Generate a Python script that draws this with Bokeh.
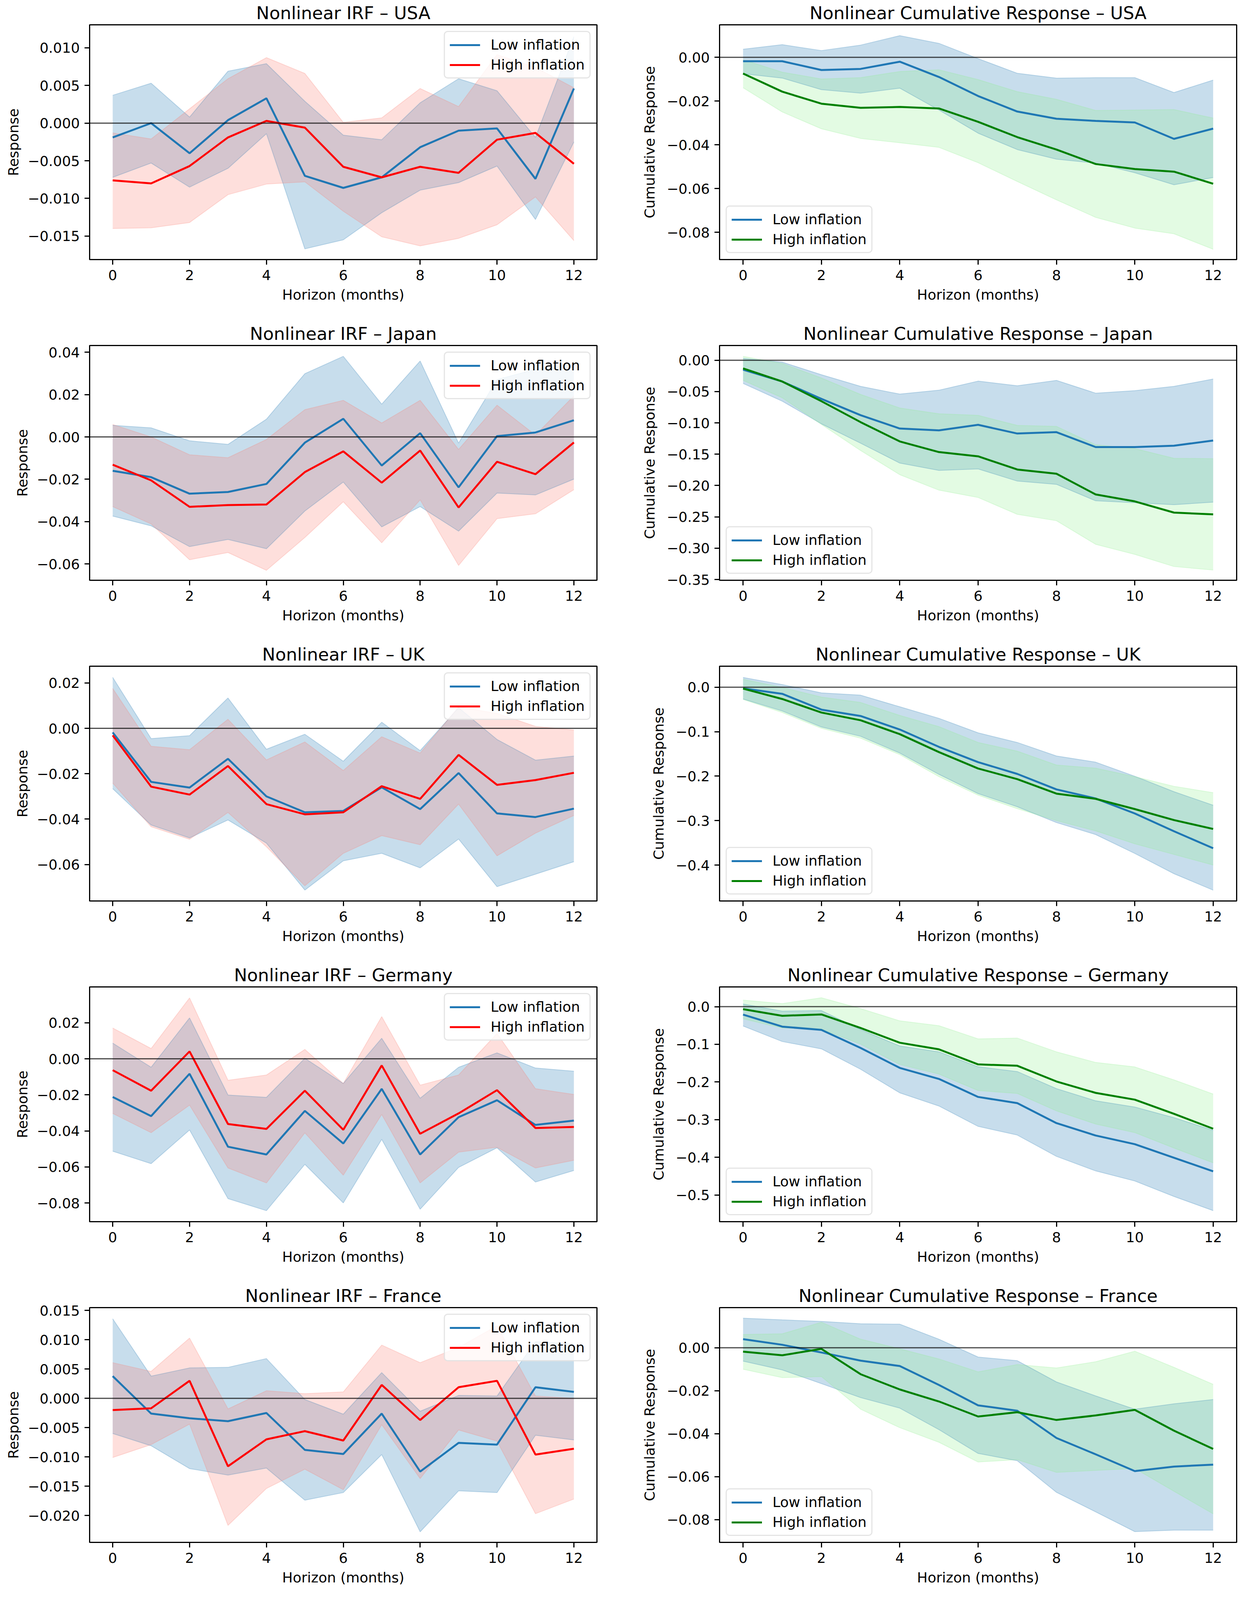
from bokeh.plotting import figure
from bokeh.layouts import gridplot
from bokeh.models import Range1d, FixedTicker, Span, CustomJSTickFormatter
from bokeh.embed import file_html
from bokeh.resources import INLINE

FONT = "DejaVu Sans"

horizon = list(range(13))
x_ticks = [0, 2, 4, 6, 8, 10, 12]

# ---------------- USA ----------------
usa_irf_low = [-0.0019, 0.0000, -0.0040, 0.0004, 0.0033, -0.0070, -0.0086, -0.0072, -0.0032, -0.0010, -0.0007, -0.0074, 0.0046]
usa_irf_low_hi = [0.0037, 0.0053, 0.0008, 0.0069, 0.0079, 0.0029, -0.0016, -0.0022, 0.0027, 0.0059, 0.0043, -0.0019, 0.0115]
usa_irf_low_lo = [-0.0072, -0.0053, -0.0085, -0.0060, -0.0014, -0.0167, -0.0155, -0.0119, -0.0089, -0.0079, -0.0057, -0.0128, -0.0025]
usa_irf_high = [-0.0076, -0.0080, -0.0057, -0.0019, 0.0003, -0.0006, -0.0058, -0.0072, -0.0058, -0.0066, -0.0022, -0.0013, -0.0054]
usa_irf_high_hi = [-0.0013, -0.0021, 0.0019, 0.0059, 0.0087, 0.0066, 0.0001, 0.0007, 0.0046, 0.0022, 0.0091, 0.0074, 0.0047]
usa_irf_high_lo = [-0.0140, -0.0139, -0.0132, -0.0095, -0.0081, -0.0078, -0.0117, -0.0151, -0.0163, -0.0153, -0.0135, -0.0098, -0.0156]

usa_cum_low = [-0.0018, -0.0018, -0.0058, -0.0053, -0.0020, -0.0090, -0.0177, -0.0248, -0.0281, -0.0291, -0.0298, -0.0373, -0.0326]
usa_cum_low_hi = [0.0037, 0.0058, 0.0031, 0.0056, 0.0099, 0.0064, -0.0006, -0.0073, -0.0095, -0.0093, -0.0093, -0.0161, -0.0104]
usa_cum_low_lo = [-0.0075, -0.0095, -0.0148, -0.0164, -0.0141, -0.0241, -0.0347, -0.0422, -0.0466, -0.0484, -0.0528, -0.0583, -0.0550]
usa_cum_high = [-0.0074, -0.0157, -0.0212, -0.0231, -0.0227, -0.0234, -0.0295, -0.0365, -0.0422, -0.0488, -0.0511, -0.0523, -0.0578]
usa_cum_high_hi = [-0.0011, -0.0068, -0.0099, -0.0093, -0.0065, -0.0057, -0.0102, -0.0157, -0.0192, -0.0243, -0.0241, -0.0239, -0.0278]
usa_cum_high_lo = [-0.0139, -0.0250, -0.0327, -0.0371, -0.0391, -0.0412, -0.0482, -0.0568, -0.0652, -0.0732, -0.0781, -0.0807, -0.0878]

# ---------------- Japan ----------------
jpn_irf_low = [-0.0160, -0.0190, -0.0268, -0.0260, -0.0222, -0.0027, 0.0086, -0.0135, 0.0018, -0.0238, 0.0004, 0.0021, 0.0079]
jpn_irf_low_hi = [0.0055, 0.0043, -0.0018, -0.0035, 0.0084, 0.0299, 0.0381, 0.0155, 0.0359, -0.0029, 0.0271, 0.0320, 0.0344]
jpn_irf_low_lo = [-0.0374, -0.0420, -0.0518, -0.0484, -0.0528, -0.0350, -0.0213, -0.0425, -0.0329, -0.0445, -0.0265, -0.0274, -0.0199]
jpn_irf_high = [-0.0131, -0.0205, -0.0330, -0.0322, -0.0319, -0.0166, -0.0068, -0.0216, -0.0064, -0.0333, -0.0117, -0.0176, -0.0026]
jpn_irf_high_hi = [0.0059, 0.0000, -0.0084, -0.0098, -0.0012, 0.0129, 0.0173, 0.0066, 0.0173, -0.0059, 0.0150, 0.0009, 0.0194]
jpn_irf_high_lo = [-0.0329, -0.0411, -0.0580, -0.0546, -0.0630, -0.0475, -0.0306, -0.0500, -0.0297, -0.0607, -0.0386, -0.0363, -0.0249]

jpn_cum_low = [-0.0151, -0.0340, -0.0617, -0.0877, -0.1090, -0.1120, -0.1031, -0.1170, -0.1148, -0.1386, -0.1386, -0.1364, -0.1281]
jpn_cum_low_hi = [0.0030, -0.0030, -0.0231, -0.0417, -0.0540, -0.0478, -0.0333, -0.0407, -0.0321, -0.0525, -0.0485, -0.0417, -0.0299]
jpn_cum_low_lo = [-0.0370, -0.0654, -0.1015, -0.1324, -0.1642, -0.1759, -0.1735, -0.1929, -0.1981, -0.2244, -0.2275, -0.2306, -0.2265]
jpn_cum_high = [-0.0130, -0.0340, -0.0654, -0.0988, -0.1296, -0.1466, -0.1534, -0.1744, -0.1812, -0.2142, -0.2253, -0.2432, -0.2460]
jpn_cum_high_hi = [0.0062, -0.0052, -0.0284, -0.0546, -0.0762, -0.0855, -0.0880, -0.1040, -0.1056, -0.1349, -0.1410, -0.1565, -0.1571]
jpn_cum_high_lo = [-0.0321, -0.0599, -0.1025, -0.1441, -0.1827, -0.2074, -0.2191, -0.2460, -0.2562, -0.2938, -0.3099, -0.3293, -0.3349]

# ---------------- UK ----------------
uk_irf_low = [-0.0018, -0.0236, -0.0261, -0.0134, -0.0300, -0.0370, -0.0364, -0.0260, -0.0356, -0.0197, -0.0375, -0.0391, -0.0354]
uk_irf_low_hi = [0.0225, -0.0045, -0.0032, 0.0134, -0.0092, -0.0026, -0.0145, 0.0027, -0.0098, 0.0091, -0.0049, -0.0140, -0.0122]
uk_irf_low_lo = [-0.0266, -0.0426, -0.0483, -0.0404, -0.0506, -0.0713, -0.0584, -0.0551, -0.0615, -0.0488, -0.0698, -0.0643, -0.0588]
uk_irf_high = [-0.0031, -0.0257, -0.0292, -0.0166, -0.0334, -0.0379, -0.0370, -0.0255, -0.0311, -0.0117, -0.0249, -0.0228, -0.0196]
uk_irf_high_hi = [0.0176, -0.0079, -0.0094, 0.0040, -0.0139, -0.0060, -0.0186, -0.0037, -0.0109, 0.0095, 0.0066, 0.0009, -0.0007]
uk_irf_high_lo = [-0.0241, -0.0434, -0.0489, -0.0371, -0.0522, -0.0694, -0.0551, -0.0473, -0.0513, -0.0334, -0.0562, -0.0462, -0.0384]

uk_cum_low = [-0.0026, -0.0148, -0.0504, -0.0647, -0.0951, -0.1342, -0.1685, -0.1950, -0.2298, -0.2502, -0.2840, -0.3240, -0.3622]
uk_cum_low_hi = [0.0221, 0.0061, -0.0126, -0.0178, -0.0439, -0.0699, -0.1025, -0.1242, -0.1546, -0.1685, -0.2002, -0.2350, -0.2654]
uk_cum_low_lo = [-0.0265, -0.0534, -0.0894, -0.1103, -0.1481, -0.1959, -0.2393, -0.2688, -0.3045, -0.3314, -0.3739, -0.4195, -0.4565]
uk_cum_high = [-0.0030, -0.0265, -0.0569, -0.0743, -0.1055, -0.1459, -0.1828, -0.2067, -0.2393, -0.2510, -0.2741, -0.2988, -0.3188]
uk_cum_high_hi = [0.0178, -0.0004, -0.0221, -0.0343, -0.0634, -0.0886, -0.1242, -0.1438, -0.1750, -0.1820, -0.2011, -0.2228, -0.2371]
uk_cum_high_lo = [-0.0274, -0.0569, -0.0925, -0.1147, -0.1516, -0.2011, -0.2428, -0.2732, -0.3001, -0.3231, -0.3522, -0.3761, -0.4000]

# ---------------- Germany ----------------
deu_irf_low = [-0.0212, -0.0318, -0.0083, -0.0488, -0.0531, -0.0289, -0.0470, -0.0167, -0.0531, -0.0324, -0.0230, -0.0367, -0.0343]
deu_irf_low_hi = [0.0087, -0.0047, 0.0227, -0.0201, -0.0214, 0.0003, -0.0137, 0.0114, -0.0219, -0.0047, 0.0033, -0.0051, -0.0069]
deu_irf_low_lo = [-0.0513, -0.0582, -0.0395, -0.0776, -0.0843, -0.0586, -0.0800, -0.0447, -0.0835, -0.0603, -0.0494, -0.0684, -0.0620]
deu_irf_high = [-0.0063, -0.0177, 0.0041, -0.0362, -0.0389, -0.0177, -0.0394, -0.0037, -0.0416, -0.0303, -0.0174, -0.0384, -0.0378]
deu_irf_high_hi = [0.0171, 0.0057, 0.0338, -0.0119, -0.0090, 0.0052, -0.0137, 0.0234, -0.0146, -0.0090, 0.0141, -0.0166, -0.0198]
deu_irf_high_lo = [-0.0303, -0.0410, -0.0257, -0.0606, -0.0689, -0.0411, -0.0646, -0.0309, -0.0689, -0.0518, -0.0491, -0.0606, -0.0563]

deu_cum_low = [-0.0211, -0.0530, -0.0617, -0.1096, -0.1626, -0.1919, -0.2397, -0.2562, -0.3092, -0.3421, -0.3652, -0.4012, -0.4372]
deu_cum_low_hi = [0.0072, -0.0118, -0.0103, -0.0607, -0.1044, -0.1199, -0.1595, -0.1723, -0.2176, -0.2500, -0.2665, -0.2948, -0.3282]
deu_cum_low_lo = [-0.0514, -0.0926, -0.1121, -0.1662, -0.2289, -0.2639, -0.3179, -0.3410, -0.3976, -0.4362, -0.4630, -0.5041, -0.5417]
deu_cum_high = [-0.0067, -0.0242, -0.0206, -0.0566, -0.0957, -0.1132, -0.1533, -0.1569, -0.1986, -0.2289, -0.2469, -0.2845, -0.3241]
deu_cum_high_hi = [0.0175, 0.0082, 0.0237, -0.0051, -0.0376, -0.0504, -0.0854, -0.0833, -0.1199, -0.1481, -0.1600, -0.1944, -0.2320]
deu_cum_high_lo = [-0.0324, -0.0566, -0.0597, -0.0993, -0.1533, -0.1790, -0.2227, -0.2305, -0.2767, -0.3117, -0.3344, -0.3755, -0.4146]

# ---------------- France ----------------
fra_irf_low = [0.0038, -0.0026, -0.0034, -0.0039, -0.0025, -0.0088, -0.0095, -0.0026, -0.0125, -0.0076, -0.0079, 0.0019, 0.0011]
fra_irf_low_hi = [0.0136, 0.0038, 0.0052, 0.0053, 0.0068, -0.0002, -0.0027, 0.0044, -0.0022, 0.0005, 0.0004, 0.0097, 0.0093]
fra_irf_low_lo = [-0.0060, -0.0081, -0.0120, -0.0131, -0.0119, -0.0174, -0.0161, -0.0096, -0.0228, -0.0158, -0.0161, -0.0063, -0.0071]
fra_irf_high = [-0.0020, -0.0017, 0.0030, -0.0116, -0.0070, -0.0056, -0.0072, 0.0023, -0.0037, 0.0019, 0.0030, -0.0096, -0.0086]
fra_irf_high_hi = [0.0061, 0.0046, 0.0103, -0.0018, 0.0013, 0.0008, 0.0011, 0.0091, 0.0061, 0.0087, 0.0124, 0.0004, 0.0000]
fra_irf_high_lo = [-0.0101, -0.0079, -0.0044, -0.0217, -0.0154, -0.0121, -0.0156, -0.0045, -0.0137, -0.0054, -0.0073, -0.0197, -0.0172]

fra_cum_low = [0.0040, 0.0014, -0.0022, -0.0060, -0.0085, -0.0173, -0.0268, -0.0293, -0.0420, -0.0496, -0.0574, -0.0553, -0.0544]
fra_cum_low_hi = [0.0138, 0.0130, 0.0123, 0.0112, 0.0110, 0.0040, -0.0043, -0.0060, -0.0159, -0.0224, -0.0286, -0.0261, -0.0241]
fra_cum_low_lo = [-0.0062, -0.0103, -0.0167, -0.0232, -0.0281, -0.0381, -0.0492, -0.0526, -0.0673, -0.0764, -0.0856, -0.0849, -0.0849]
fra_cum_high = [-0.0018, -0.0035, -0.0005, -0.0123, -0.0194, -0.0250, -0.0320, -0.0300, -0.0336, -0.0315, -0.0289, -0.0386, -0.0471]
fra_cum_high_hi = [0.0062, 0.0065, 0.0119, 0.0040, -0.0005, -0.0052, -0.0112, -0.0078, -0.0094, -0.0065, -0.0016, -0.0091, -0.0170]
fra_cum_high_lo = [-0.0100, -0.0139, -0.0134, -0.0286, -0.0372, -0.0440, -0.0532, -0.0521, -0.0580, -0.0571, -0.0562, -0.0668, -0.0773]

# tick label values per panel
usa_irf_ticks = [-0.015, -0.010, -0.005, 0.0, 0.005, 0.010]
usa_cum_ticks = [-0.08, -0.06, -0.04, -0.02, 0.0]
jpn_irf_ticks = [-0.06, -0.04, -0.02, 0.0, 0.02, 0.04]
jpn_cum_ticks = [-0.35, -0.30, -0.25, -0.20, -0.15, -0.10, -0.05, 0.0]
uk_irf_ticks = [-0.06, -0.04, -0.02, 0.0, 0.02]
uk_cum_ticks = [-0.4, -0.3, -0.2, -0.1, 0.0]
deu_irf_ticks = [-0.08, -0.06, -0.04, -0.02, 0.0, 0.02]
deu_cum_ticks = [-0.5, -0.4, -0.3, -0.2, -0.1, 0.0]
fra_irf_ticks = [-0.020, -0.015, -0.010, -0.005, 0.0, 0.005, 0.010, 0.015]
fra_cum_ticks = [-0.08, -0.06, -0.04, -0.02, 0.0]

LOW_COLOR = "#1f77b4"

# layout (px) - the whole grid is kept within the visible page height
ROW_H = [821, 821, 821, 821, 782]
TOP = 60
FRAME_H = 604
L_W, R_W = 1596, 1581
L_BR, R_BR = 68, 11


def make_panel(title, ylabel, low, low_lo, low_hi, high, high_lo, high_hi,
               high_color, high_fill, loc, yticks, dec, yr, width, height,
               bl, br, ylab_standoff):
    p = figure(width=width, height=height, output_backend="svg",
               toolbar_location=None, title=title,
               x_range=Range1d(-0.6, 12.6), y_range=Range1d(yr[0], yr[1]),
               min_border_left=bl, min_border_right=br, min_border_top=TOP,
               min_border_bottom=height - TOP - FRAME_H)
    p.background_fill_color = "white"
    p.border_fill_color = "white"
    p.xgrid.visible = False
    p.ygrid.visible = False
    p.outline_line_color = "black"
    p.outline_line_width = 3
    p.outline_line_alpha = 1.0

    p.title.text_font = FONT
    p.title.text_font_size = "45px"
    p.title.text_font_style = "normal"
    p.title.text_color = "black"
    p.title.align = "center"
    p.title.standoff = 8

    for ax in (p.xaxis[0], p.yaxis[0]):
        ax.axis_line_color = "black"
        ax.axis_line_width = 3
        ax.major_tick_out = 13
        ax.major_tick_in = 0
        ax.major_tick_line_width = 3
        ax.major_tick_line_color = "black"
        ax.minor_tick_line_color = None
        ax.major_label_text_font = FONT
        ax.major_label_text_font_size = "36px"
        ax.major_label_text_color = "black"
        ax.axis_label_text_font = FONT
        ax.axis_label_text_font_size = "36px"
        ax.axis_label_text_font_style = "normal"
        ax.axis_label_text_color = "black"

    p.xaxis.axis_label = "Horizon (months)"
    p.xaxis.major_label_standoff = 13
    p.xaxis.axis_label_standoff = 14
    p.yaxis.axis_label = ylabel
    p.yaxis.major_label_standoff = 12
    p.yaxis.axis_label_standoff = ylab_standoff
    p.xaxis.ticker = FixedTicker(ticks=x_ticks)
    p.yaxis.ticker = FixedTicker(ticks=yticks)
    p.yaxis.formatter = CustomJSTickFormatter(args=dict(d=dec), code="""
        const s = Math.abs(tick).toFixed(d);
        return (tick < -1e-12 ? "\u2212" : "") + s;
    """)

    # confidence bands
    p.varea(x=horizon, y1=low_lo, y2=low_hi, fill_color=LOW_COLOR, fill_alpha=0.25)
    p.varea(x=horizon, y1=high_lo, y2=high_hi, fill_color=high_fill, fill_alpha=0.25)
    for arr, col in ((low_lo, LOW_COLOR), (low_hi, LOW_COLOR),
                     (high_lo, high_fill), (high_hi, high_fill)):
        p.line(horizon, arr, line_color=col, line_alpha=0.25, line_width=2)

    zero = Span(location=0, dimension="width", line_color="black",
                line_alpha=0.7, line_width=3)
    p.add_layout(zero)

    p.line(horizon, low, line_color=LOW_COLOR, line_width=5,
           legend_label="Low inflation")
    p.line(horizon, high, line_color=high_color, line_width=5,
           legend_label="High inflation")

    lg = p.legend[0]
    lg.location = loc
    lg.margin = 16
    lg.padding = 12
    lg.spacing = 10
    lg.glyph_width = 78
    lg.glyph_height = 40
    lg.label_height = 40
    lg.label_standoff = 27
    lg.label_text_font = FONT
    lg.label_text_font_size = "36px"
    lg.label_text_color = "black"
    lg.border_line_color = "#cccccc"
    lg.border_line_width = 3
    lg.background_fill_color = "white"
    lg.background_fill_alpha = 0.8
    try:
        lg.border_radius = 10
    except Exception:
        pass
    return p


panels = [
    ("USA", ROW_H[0], 229, 246,
     (usa_irf_low, usa_irf_low_lo, usa_irf_low_hi, usa_irf_high, usa_irf_high_lo, usa_irf_high_hi),
     usa_irf_ticks, 3, (-0.01812, 0.01306),
     (usa_cum_low, usa_cum_low_lo, usa_cum_low_hi, usa_cum_high, usa_cum_high_lo, usa_cum_high_hi),
     usa_cum_ticks, 2, (-0.0925, 0.01487)),
    ("Japan", ROW_H[1], 207, 246,
     (jpn_irf_low, jpn_irf_low_lo, jpn_irf_low_hi, jpn_irf_high, jpn_irf_high_lo, jpn_irf_high_hi),
     jpn_irf_ticks, 2, (-0.0677, 0.0432),
     (jpn_cum_low, jpn_cum_low_lo, jpn_cum_low_hi, jpn_cum_high, jpn_cum_high_lo, jpn_cum_high_hi),
     jpn_cum_ticks, 2, (-0.3512, 0.0235)),
    ("UK", ROW_H[2], 207, 222,
     (uk_irf_low, uk_irf_low_lo, uk_irf_low_hi, uk_irf_high, uk_irf_high_lo, uk_irf_high_hi),
     uk_irf_ticks, 2, (-0.0761, 0.0274),
     (uk_cum_low, uk_cum_low_lo, uk_cum_low_hi, uk_cum_high, uk_cum_high_lo, uk_cum_high_hi),
     uk_cum_ticks, 1, (-0.4808, 0.0473)),
    ("Germany", ROW_H[3], 207, 222,
     (deu_irf_low, deu_irf_low_lo, deu_irf_low_hi, deu_irf_high, deu_irf_high_lo, deu_irf_high_hi),
     deu_irf_ticks, 2, (-0.0904, 0.0399),
     (deu_cum_low, deu_cum_low_lo, deu_cum_low_hi, deu_cum_high, deu_cum_high_lo, deu_cum_high_hi),
     deu_cum_ticks, 1, (-0.5710, 0.0525)),
    ("France", ROW_H[4], 229, 246,
     (fra_irf_low, fra_irf_low_lo, fra_irf_low_hi, fra_irf_high, fra_irf_high_lo, fra_irf_high_hi),
     fra_irf_ticks, 3, (-0.0246, 0.0155),
     (fra_cum_low, fra_cum_low_lo, fra_cum_low_hi, fra_cum_high, fra_cum_high_lo, fra_cum_high_hi),
     fra_cum_ticks, 2, (-0.0906, 0.0187)),
]

rows = []
for (country, h, bl_left, bl_right, irf, irf_ticks, irf_dec, irf_yr,
     cum, cum_ticks, cum_dec, cum_yr) in panels:
    left = make_panel("Nonlinear IRF \u2013 " + country, "Response", *irf,
                      "red", "salmon", "top_right", irf_ticks, irf_dec, irf_yr,
                      L_W, h, bl_left, L_BR, 13)
    right = make_panel("Nonlinear Cumulative Response \u2013 " + country,
                       "Cumulative Response", *cum,
                       "green", "lightgreen", "bottom_left", cum_ticks, cum_dec, cum_yr,
                       R_W, h, bl_right, R_BR, 20)
    rows.append([left, right])

grid = gridplot(rows, toolbar_location=None)

open("out.html", "w").write(file_html(grid, INLINE))
